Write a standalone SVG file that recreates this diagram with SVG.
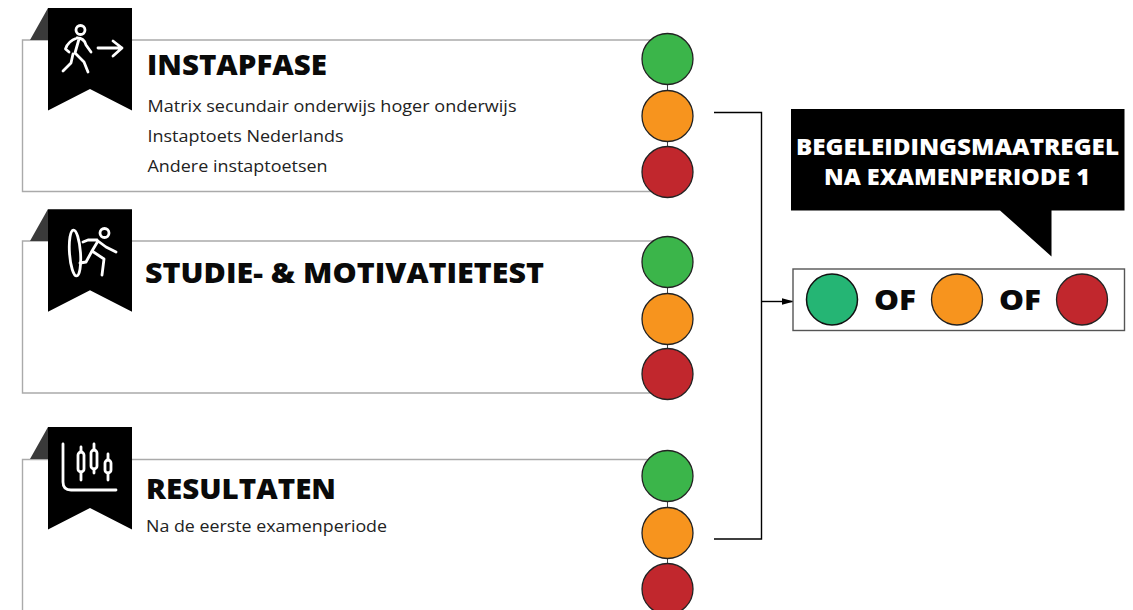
<svg xmlns="http://www.w3.org/2000/svg" width="1133" height="610" viewBox="0 0 1133 610">
<style>
text{font-family:"Open Sans","Noto Sans",sans-serif}
.h{font-size:28px;font-weight:800;fill:#0a0a0a}
.b{font-size:17px;fill:#222}
.w{font-size:22.500px;font-weight:800;fill:#fff}
.of{font-size:29px;font-weight:800;fill:#0a0a0a}
.box{fill:#fff;stroke:#aaa;stroke-width:1.4}
.fold{fill:#3a3a3a}
.rib{fill:#000}
.ic{fill:none;stroke:#fff;stroke-width:2.8;stroke-linecap:round;stroke-linejoin:round}
.c{stroke:#222;stroke-width:1.3}
.g{fill:#3bb54a}.o{fill:#f7941e}.r{fill:#c1272d}
.st{stroke:#444;stroke-width:1}
.con{fill:none;stroke:#000;stroke-width:1.4}
</style>
<defs>
<marker id="a" markerWidth="12" markerHeight="8" refX="11" refY="4" orient="auto" markerUnits="userSpaceOnUse"><path d="M0 .8L12 4L0 7.2z" fill="#000"/></marker>
<path id="ribbon" class="rib" d="M48 8H132V110.500L90 89L48 110.500z"/>
<path id="foldp" class="fold" d="M30 40L48 8V40z"/>
</defs>

<g id="instapfase">
<path class="box" d="M667 40H22.500V191.500H667"/>
<use href="#foldp"/><use href="#ribbon"/>
<g class="ic">
<circle cx="80.500" cy="30" r="4.500"/>
<path d="M77 38C71 40 67 44 65.500 49L69 52M77 38C82 38 85 41 86 45L91 52M79 39L75 53L84 62L88 72M73 54L71 63L63 71"/>
<path d="M98 48H122M113 41L122 48L113 56"/>
</g>
<text class="h" x="147" y="75" textLength="180" lengthAdjust="spacingAndGlyphs">INSTAPFASE</text>
<text class="b" x="147.500" y="112" textLength="369" lengthAdjust="spacingAndGlyphs">Matrix secundair onderwijs hoger onderwijs</text>
<text class="b" x="147.500" y="142" textLength="196" lengthAdjust="spacingAndGlyphs">Instaptoets Nederlands</text>
<text class="b" x="147.500" y="172" textLength="180" lengthAdjust="spacingAndGlyphs">Andere instaptoetsen</text>
<path class="st" d="M667.500 84V147"/>
<circle class="c g" cx="667.500" cy="59" r="25.500"/>
<circle class="c o" cx="667.500" cy="116" r="25.500"/>
<circle class="c r" cx="667.500" cy="172" r="25.500"/>
</g>

<g id="studie">
<path class="box" d="M667 241H22.500V393H667"/>
<use href="#foldp" y="201"/><use href="#ribbon" y="201.300"/>
<g class="ic">
<ellipse cx="75" cy="253" rx="5.500" ry="23" transform="rotate(-4 75 253)"/>
<circle cx="104.500" cy="233" r="4.500"/>
<path d="M83 242L88 240H97M98 241L92 251L104 259L102 275M98 241L106 247L116 252M92 251L86 262L80 263"/>
</g>
<text class="h" x="145" y="283" textLength="399" lengthAdjust="spacingAndGlyphs">STUDIE- &amp; MOTIVATIETEST</text>
<path class="st" d="M667.500 285V350"/>
<circle class="c g" cx="667.500" cy="262" r="25.500"/>
<circle class="c o" cx="667.500" cy="319" r="25.500"/>
<circle class="c r" cx="667.500" cy="374" r="25.500"/>
</g>

<g id="resultaten">
<path class="box" d="M667 459.500H22.500V611"/>
<use href="#foldp" y="419"/><use href="#ribbon" y="419"/>
<g class="ic">
<path d="M63 444V482Q63 490 71 490H116"/>
<path d="M81 447V452M81 472V480M94 444V450M94 469V473M108 454V460M108 473V480"/>
<rect x="78" y="452" width="6" height="20" rx="3"/>
<rect x="91" y="450" width="6" height="19" rx="3"/>
<rect x="105" y="460" width="6" height="13" rx="3"/>
</g>
<text class="h" x="146" y="499" textLength="190" lengthAdjust="spacingAndGlyphs">RESULTATEN</text>
<text class="b" x="146" y="532" textLength="241" lengthAdjust="spacingAndGlyphs">Na de eerste examenperiode</text>
<path class="st" d="M667.500 500V565"/>
<circle class="c g" cx="667.500" cy="476" r="25.500"/>
<circle class="c o" cx="667.500" cy="533" r="25.500"/>
<circle class="c r" cx="667.500" cy="589" r="25.500"/>
</g>

<g id="connectors">
<path class="con" d="M714 112.500H761.500V539H714"/>
<path class="con" d="M761.500 301.500H793" marker-end="url(#a)"/>
</g>

<g id="callout">
<path fill="#000" d="M791 109H1124.500V210.500H1051.500V256.500L1000 210.500H791z"/>
<text class="w" x="796" y="155" textLength="323" lengthAdjust="spacingAndGlyphs">BEGELEIDINGSMAATREGEL</text>
<text class="w" x="824" y="185" textLength="266" lengthAdjust="spacingAndGlyphs">NA EXAMENPERIODE 1</text>
</g>

<g id="result">
<rect x="793" y="269" width="331.500" height="61.500" fill="#fff" stroke="#555" stroke-width="1.400"/>
<circle cx="832" cy="299.500" r="25.500" fill="#25b574" stroke="#111" stroke-width="1.500"/>
<text class="of" x="874" y="310" textLength="42" lengthAdjust="spacingAndGlyphs">OF</text>
<circle class="c o" cx="957" cy="299.500" r="25.500"/>
<text class="of" x="999" y="310" textLength="42" lengthAdjust="spacingAndGlyphs">OF</text>
<circle class="c r" cx="1082" cy="299.500" r="25.500"/>
</g>
</svg>
